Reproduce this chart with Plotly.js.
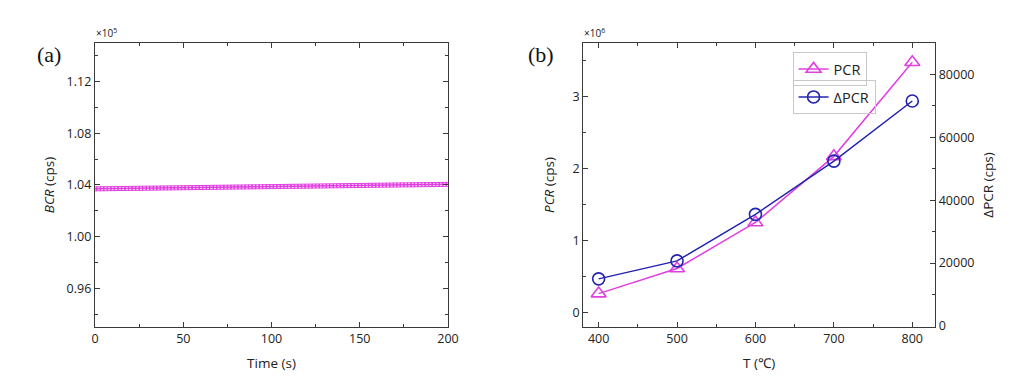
<!DOCTYPE html>
<html>
<head>
<meta charset="utf-8">
<script src="https://cdn.plot.ly/plotly-3.0.1.min.js"></script>
<style>html,body{margin:0;padding:0;background:#fff;}#chart{width:1024px;height:387px;}</style>
</head>
<body>
<div id="chart"></div>
<script>
// Panel (a): background count rate vs time
const timeS = [0,2,4,6,8,10,12,14,16,18,20,22,24,26,28,30,32,34,36,38,40,42,44,46,48,50,52,54,56,58,60,62,64,66,68,70,72,74,76,78,80,82,84,86,88,90,92,94,96,98,100,102,104,106,108,110,112,114,116,118,120,122,124,126,128,130,132,134,136,138,140,142,144,146,148,150,152,154,156,158,160,162,164,166,168,170,172,174,176,178,180,182,184,186,188,190,192,194,196,198,200];
const bcr = [103700,103704,103707,103711,103714,103718,103721,103725,103728,103732,
             103735,103739,103742,103746,103749,103753,103756,103760,103763,103767,
             103770,103774,103777,103781,103784,103788,103791,103795,103798,103802,
             103805,103809,103812,103816,103819,103823,103826,103830,103833,103837,
             103840,103844,103847,103851,103854,103858,103861,103865,103868,103872,
             103875,103879,103882,103886,103889,103893,103896,103900,103903,103907,
             103910,103914,103917,103921,103924,103928,103931,103935,103938,103942,
             103945,103949,103952,103956,103959,103963,103966,103970,103973,103977,
             103980,103984,103987,103991,103994,103998,104001,104005,104008,104012,
             104015,104019,104022,104026,104029,104033,104036,104040,104043,104047,
             104050];
const bcrTickVals = [96000,100000,104000,108000,112000];
const bcrTickText = ['0.96','1.00','1.04','1.08','1.12'];
const timeTicks = [0,50,100,150,200];

// Panel (b): PCR and ΔPCR vs temperature
const tempC = [400,500,600,700,800];
const pcr = [260000,610000,1250000,2170000,3480000];
const dpcr = [15000,20700,35500,52400,71500];
const pcrTickVals = [0,1000000,2000000,3000000];
const pcrTickText = ['0','1','2','3'];
const dpcrTicks = [0,20000,40000,60000,80000];
const dpcrTickText = ['0','20000','40000','60000','80000'];
const tempTicks = [400,500,600,700,800];

const magenta = '#e040e0';
const blue = '#2323b0';
const axisColor = '#3a3a3a';
const fam = 'Open Sans, Noto Sans, sans-serif';
const tickFont = {family:fam, size:12.5, color:'#222'};
const titleFont = {family:fam, size:13.5, color:'#222'};

function baseAxis(extra){
  return Object.assign({
    showline:true, linecolor:axisColor, linewidth:1.2,
    ticks:'inside', ticklen:5, tickwidth:1, tickcolor:axisColor,
    showgrid:false, zeroline:false, tickfont:tickFont,
  }, extra);
}

const traces = [
  {x:timeS, y:bcr, xaxis:'x', yaxis:'y', mode:'lines+markers', type:'scatter',
   line:{color:magenta, width:1.5},
   marker:{symbol:'square-open', size:4, color:magenta, line:{width:1}}, showlegend:false},
  {x:tempC, y:pcr, xaxis:'x2', yaxis:'y2', mode:'lines+markers', type:'scatter', name:'PCR',
   line:{color:magenta, width:1.5},
   marker:{symbol:'triangle-up-open', size:13, color:magenta, line:{width:1.6}}, legend:'legend'},
  {x:tempC, y:dpcr, xaxis:'x2', yaxis:'y3', mode:'lines+markers', type:'scatter', name:'ΔPCR',
   line:{color:blue, width:1.5},
   marker:{symbol:'circle-open', size:12, color:blue, line:{width:1.6}}, legend:'legend2'}
];

const legendCommon = {xanchor:'left', yanchor:'top', bgcolor:'rgba(255,255,255,0)',
    bordercolor:'#c8c8c8', borderwidth:1, font:{family:fam, size:14.5, color:'#222'},
    itemwidth:30, tracegroupgap:0};

const layout = {
  width:1024, height:387,
  margin:{l:0,r:0,t:0,b:0},
  paper_bgcolor:'#fff', plot_bgcolor:'#fff',
  showlegend:true,
  xaxis: baseAxis({domain:[0.0928,0.4375], range:[0,200], anchor:'y', mirror:'ticks',
    tickvals:timeTicks, minor:{dtick:25, ticks:'inside', ticklen:3, tickcolor:axisColor},
    title:{text:'Time (s)', font:titleFont, standoff:12}}),
  yaxis: baseAxis({domain:[0.155,0.889], range:[93000,115000], anchor:'x', mirror:'ticks',
    tickvals:bcrTickVals, ticktext:bcrTickText,
    minor:{tickvals:[94000,98000,102000,106000,110000,114000], ticks:'inside', ticklen:3, tickcolor:axisColor},
    title:{text:'<i>BCR</i> (cps)', font:titleFont, standoff:8}}),
  xaxis2: baseAxis({domain:[0.5696,0.9131], range:[380.4,829], anchor:'y2', mirror:'ticks',
    tickvals:tempTicks, minor:{dtick:50, tick0:400, ticks:'inside', ticklen:3, tickcolor:axisColor},
    title:{text:'T (℃)', font:titleFont, standoff:12}}),
  yaxis2: baseAxis({domain:[0.155,0.889], range:[-205000,3748000], anchor:'x2',
    tickvals:pcrTickVals, ticktext:pcrTickText,
    minor:{tickvals:[500000,1500000,2500000,3500000], ticks:'inside', ticklen:3, tickcolor:axisColor},
    title:{text:'<i>PCR</i> (cps)', font:titleFont, standoff:14}}),
  yaxis3: baseAxis({range:[-300,89950], anchor:'x2', overlaying:'y2', side:'right',
    tickvals:dpcrTicks, ticktext:dpcrTickText,
    minor:{tickvals:[10000,30000,50000,70000,90000], ticks:'inside', ticklen:3, tickcolor:axisColor},
    title:{text:'ΔPCR (cps)', font:titleFont, standoff:10}}),
  legend:Object.assign({x:0.774, y:1-52/387}, legendCommon),
  legend2:Object.assign({x:0.774, y:1-80/387}, legendCommon),
  annotations:[
    {text:'(a)', xref:'paper', yref:'paper', x:35/1024, y:1-40/387, showarrow:false,
     font:{family:'Liberation Serif, serif', size:22, color:'#111'}},
    {text:'(b)', xref:'paper', yref:'paper', x:541/1024, y:1-40/387, showarrow:false,
     font:{family:'Liberation Serif, serif', size:22, color:'#111'}},
    {text:'×10<sup>5</sup>', xref:'paper', yref:'paper', x:94/1024, y:1-42/387, xanchor:'left', yanchor:'bottom', showarrow:false,
     font:{family:fam, size:10, color:'#222'}},
    {text:'×10<sup>6</sup>', xref:'paper', yref:'paper', x:582/1024, y:1-42/387, xanchor:'left', yanchor:'bottom', showarrow:false,
     font:{family:fam, size:10, color:'#222'}}
  ]
};

Plotly.newPlot('chart', traces, layout, {displayModeBar:false, staticPlot:true});
</script>
</body>
</html>
